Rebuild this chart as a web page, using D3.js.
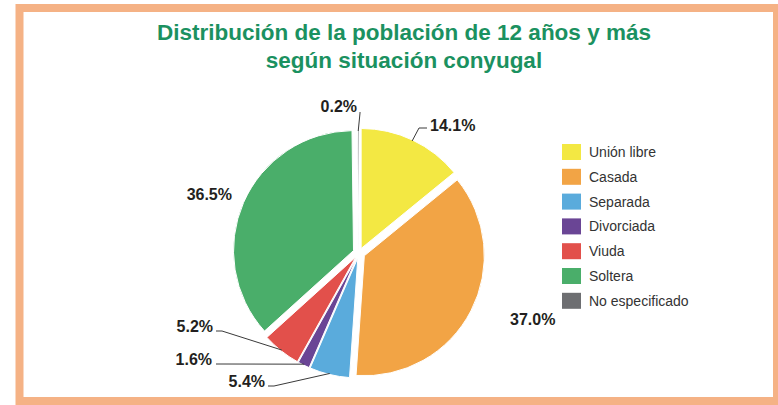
<!DOCTYPE html>
<html>
<head>
<meta charset="utf-8">
<script src="https://cdn.jsdelivr.net/npm/d3@7"></script>
<style>
  body { margin: 0; background: #fff; }
  svg { display: block; }
</style>
</head>
<body>
<svg id="chart" width="778" height="405"></svg>
<script>
// chart data
const categories = ['Unión libre', 'Casada', 'Separada', 'Divorciada', 'Viuda', 'Soltera', 'No especificado']
const values = [14.1, 37.0, 5.4, 1.6, 5.2, 36.5, 0.2]
const colors = ['#f3e843', '#f2a445', '#5aabdc', '#6a4595', '#e2504b', '#4aae6a', '#6d6e71']
const titleLines = ['Distribución de la población de 12 años y más', 'según situación conyugal']

// layout
const cx = 359
const cy = 253
const radius = 120
const explode = [5, 6, 5, 5, 5, 6, 3]
// label anchor, alignment and leader elbow for each slice
const labelLayout = [
  { x: 430, y: 131, anchor: 'start', leader: [[427, 128], [419, 128]] },
  { x: 510, y: 325, anchor: 'start', leader: null },
  { x: 265, y: 387, anchor: 'end', leader: [[268, 386], [274, 386]] },
  { x: 212, y: 365, anchor: 'end', leader: [[216, 364], [222, 364]] },
  { x: 213, y: 332, anchor: 'end', leader: [[216, 331], [222, 331]] },
  { x: 232, y: 200, anchor: 'end', leader: null },
  { x: 357, y: 112, anchor: 'end', leader: [[360, 112], [360, 113]] }
]

const svg = d3.select('#chart')

// frame
svg.append('rect')
  .attr('x', 19.5)
  .attr('y', 8)
  .attr('width', 757.5)
  .attr('height', 393)
  .attr('fill', '#fff')
  .attr('stroke', '#f5b285')
  .attr('stroke-width', 8)

// title
svg.append('text')
  .attr('x', 404)
  .attr('text-anchor', 'middle')
  .attr('font-family', 'Liberation Sans, Arial, sans-serif')
  .attr('font-weight', 'bold')
  .attr('font-size', '22.5px')
  .attr('fill', '#1b9160')
  .selectAll('tspan')
  .data(titleLines)
  .enter()
  .append('tspan')
  .attr('x', 404)
  .attr('y', (d, i) => 40 + i * 28)
  .text(d => d)

const pie = d3.pie().sort(null).value(d => d)
const arcs = pie(values)
const arc = d3.arc().innerRadius(0).outerRadius(radius)

// offset of each slice along its bisector
const offset = (d, i) => {
  const a = (d.startAngle + d.endAngle) / 2
  return [Math.sin(a) * explode[i], -Math.cos(a) * explode[i]]
}

const g = svg.append('g').attr('transform', `translate(${cx},${cy})`)

g.selectAll('path')
  .data(arcs)
  .enter()
  .append('path')
  .attr('d', arc)
  .attr('transform', (d, i) => `translate(${offset(d, i)})`)
  .attr('fill', (d, i) => colors[i])
  .attr('stroke', '#fff')
  .attr('stroke-width', 1)

// leader lines end on the slice edge
arcs.forEach((d, i) => {
  const lay = labelLayout[i]
  if (!lay.leader) return
  const a = (d.startAngle + d.endAngle) / 2
  const o = offset(d, i)
  const edge = [cx + o[0] + Math.sin(a) * (radius - 1), cy + o[1] - Math.cos(a) * (radius - 1)]
  const pts = lay.leader.concat([edge])
  svg.append('path')
    .attr('d', d3.line()(pts))
    .attr('fill', 'none')
    .attr('stroke', '#3a3a3a')
    .attr('stroke-width', 1)
})

// value labels
svg.selectAll('.val')
  .data(arcs)
  .enter()
  .append('text')
  .attr('class', 'val')
  .attr('x', (d, i) => labelLayout[i].x)
  .attr('y', (d, i) => labelLayout[i].y)
  .attr('text-anchor', (d, i) => labelLayout[i].anchor)
  .attr('font-family', 'Liberation Sans, Arial, sans-serif')
  .attr('font-weight', 'bold')
  .attr('font-size', '16px')
  .attr('fill', '#231f20')
  .text(d => d.data.toFixed(1) + '%')

// legend
const legend = svg.append('g')
const legendItem = legend.selectAll('g')
  .data(categories)
  .enter()
  .append('g')
  .attr('transform', (d, i) => `translate(562,${144 + i * 24.8})`)

legendItem.append('rect')
  .attr('width', 19)
  .attr('height', 16)
  .attr('fill', (d, i) => colors[i])

legendItem.append('text')
  .attr('x', 27)
  .attr('y', 13)
  .attr('font-family', 'Liberation Sans, Arial, sans-serif')
  .attr('font-size', '14px')
  .attr('fill', '#333')
  .text(d => d)
</script>
</body>
</html>
